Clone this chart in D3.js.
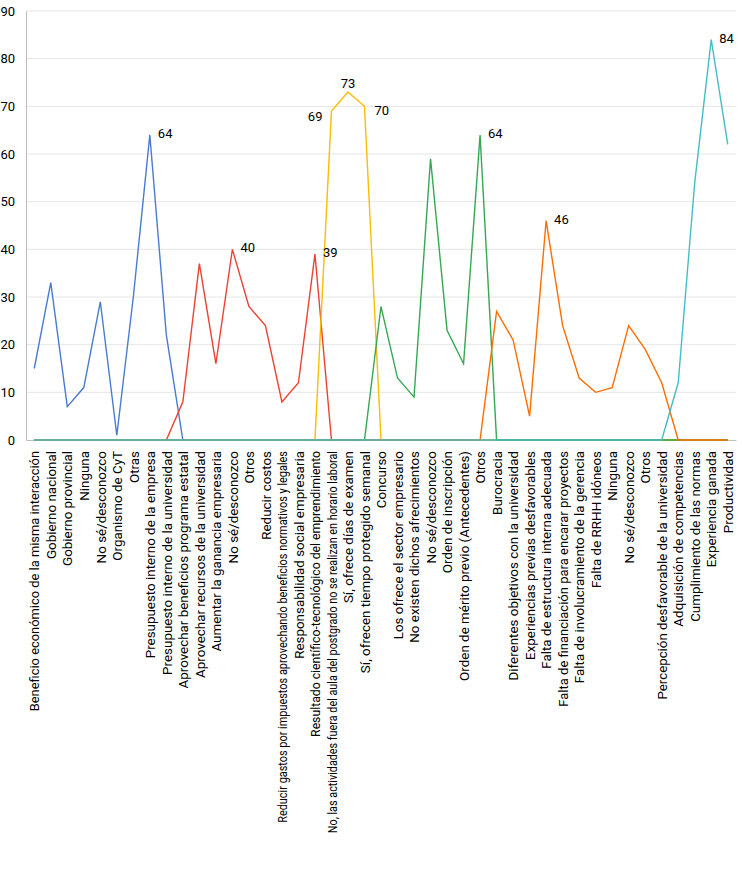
<!DOCTYPE html>
<html>
<head>
<meta charset="utf-8">
<script src="https://cdn.jsdelivr.net/npm/d3@7"></script>
<style>
  html, body { margin: 0; padding: 0; background: #fff; }
  svg text { font-family: "Roboto", "Liberation Sans Narrow", sans-serif; fill: #000; }
</style>
</head>
<body>
<svg id="chart" width="742" height="882"></svg>
<script>
const categories = [
  "Beneficio económico de la misma interacción",
  "Gobierno nacional",
  "Gobierno provincial",
  "Ninguna",
  "No sé/desconozco",
  "Organismo de CyT",
  "Otras",
  "Presupuesto interno de la empresa",
  "Presupuesto interno de la universidad",
  "Aprovechar beneficios programa estatal",
  "Aprovechar recursos de la universidad",
  "Aumentar la ganancia empresaria",
  "No sé/desconozco",
  "Otros",
  "Reducir costos",
  "Reducir gastos por impuestos aprovechando beneficios normativos y legales",
  "Responsabilidad social empresaria",
  "Resultado científico-tecnológico del emprendimiento",
  "No, las actividades fuera del aula del postgrado no se realizan en horario laboral",
  "Sí, ofrece días de examen",
  "Sí, ofrecen tiempo protegido semanal",
  "Concurso",
  "Los ofrece el sector empresario",
  "No existen dichos afrecimientos",
  "No sé/desconozco",
  "Orden de inscripción",
  "Orden de mérito previo (Antecedentes)",
  "Otros",
  "Burocracia",
  "Diferentes objetivos con la universidad",
  "Experiencias previas desfavorables",
  "Falta de estructura interna adecuada",
  "Falta de financiación para encarar proyectos",
  "Falta de involucramiento de la gerencia",
  "Falta de RRHH idóneos",
  "Ninguna",
  "No sé/desconozco",
  "Otros",
  "Percepción desfavorable de la universidad",
  "Adquisición de competencias",
  "Cumplimiento de las normas",
  "Experiencia ganada",
  "Productividad"
];

// Six series (one per question block); 0 outside the block
const seriesA = [15,33,7,11,29,1,30,64,22, 0,0,0,0,0,0,0,0,0,0,0,0,0,0,0,0,0,0,0,0,0,0,0,0,0,0,0,0,0,0,0,0,0,0];
const seriesB = [0,0,0,0,0,0,0,0,0, 8,37,16,40,28,24,8,12,39, 0,0,0,0,0,0,0,0,0,0,0,0,0,0,0,0,0,0,0,0,0,0,0,0,0];
const seriesC = [0,0,0,0,0,0,0,0,0,0,0,0,0,0,0,0,0,0, 69,73,70, 0,0,0,0,0,0,0,0,0,0,0,0,0,0,0,0,0,0,0,0,0,0];
const seriesD = [0,0,0,0,0,0,0,0,0,0,0,0,0,0,0,0,0,0,0,0,0, 28,13,9,59,23,16,64, 0,0,0,0,0,0,0,0,0,0,0,0,0,0,0];
const seriesE = [0,0,0,0,0,0,0,0,0,0,0,0,0,0,0,0,0,0,0,0,0,0,0,0,0,0,0,0, 27,21,5,46,24,13,10,11,24,19,12, 0,0,0,0];
const seriesF = [0,0,0,0,0,0,0,0,0,0,0,0,0,0,0,0,0,0,0,0,0,0,0,0,0,0,0,0,0,0,0,0,0,0,0,0,0,0,0,12,54,84,62];

const yTicks = [0,10,20,30,40,50,60,70,80,90];

// Data labels: [series index, category index, placement]
const valueLabels = [
  [0, 7, "right"],
  [1, 12, "right"],
  [1, 17, "right"],
  [2, 18, "left"],
  [2, 19, "top"],
  [2, 20, "rightBelow"],
  [3, 27, "right"],
  [4, 31, "right"],
  [5, 41, "right"]
];

(function () {
const allSeries = [seriesA, seriesB, seriesC, seriesD, seriesE, seriesF];
const colors = ["#4a7bd0", "#ea4335", "#fbbc04", "#34a853", "#ff6d01", "#46bdc6"];

const svg = d3.select("#chart");
const mLeft = 26, mRight = 736, mTop = 11, mBottom = 440;

const x = d3.scalePoint().domain(d3.range(categories.length)).range([mLeft, mRight]).padding(0.5);
const y = d3.scaleLinear().domain([0, 90]).range([mBottom, mTop]);

// gridlines
svg.append("g").selectAll("line").data(yTicks.filter(d => d > 0)).join("line")
  .attr("x1", mLeft).attr("x2", mRight)
  .attr("y1", d => y(d)).attr("y2", d => y(d))
  .attr("stroke", "#e6e6e6").attr("stroke-width", 1);

// y axis
const yAxis = svg.append("g").attr("transform", `translate(${mLeft},0)`)
  .call(d3.axisLeft(y).tickValues(yTicks).tickSize(0).tickPadding(11));
yAxis.select(".domain").attr("stroke", "#bdbdbd");
yAxis.selectAll("text").attr("font-size", 13).attr("font-family", "Roboto, sans-serif");

// x axis
const xAxis = svg.append("g").attr("transform", `translate(0,${mBottom})`)
  .call(d3.axisBottom(x).tickSize(0).tickFormat(i => categories[i]));
xAxis.select(".domain").attr("stroke", "#bdbdbd");
xAxis.selectAll("text")
  .attr("font-size", 13.4)
  .attr("font-family", "Roboto, sans-serif")
  .attr("text-anchor", "end")
  .attr("dy", "0.35em")
  .attr("transform", "translate(0,11) rotate(-90)")
  .attr("x", 0).attr("y", 0)
  .each(function () {
    const natural = this.getComputedTextLength();
    const knee = 245;
    if (natural > knee) {
      const fit = knee + (natural - knee) * 0.6;
      d3.select(this).attr("textLength", fit).attr("lengthAdjust", "spacingAndGlyphs");
    }
  });

// lines
const line = d3.line().x((d, i) => x(i)).y(d => y(d));
svg.append("g").selectAll("path").data(allSeries).join("path")
  .attr("d", line)
  .attr("fill", "none")
  .attr("stroke", (d, i) => colors[i])
  .attr("stroke-width", 1.4)
  .attr("stroke-linejoin", "miter");

// value labels
svg.append("g").selectAll("text").data(valueLabels).join("text")
  .attr("font-size", 13)
  .attr("font-family", "Roboto, sans-serif")
  .attr("x", d => {
    const px = x(d[1]);
    if (d[2] === "left") return px - 9;
    if (d[2] === "top") return px;
    if (d[2] === "rightBelow") return px + 10;
    return px + 8;
  })
  .attr("y", d => {
    const py = y(allSeries[d[0]][d[1]]);
    if (d[2] === "left") return py + 10;
    if (d[2] === "top") return py - 4;
    if (d[2] === "rightBelow") return py + 9;
    return py + 3;
  })
  .attr("text-anchor", d => d[2] === "left" ? "end" : d[2] === "top" ? "middle" : "start")
  .text(d => allSeries[d[0]][d[1]]);
})();
</script>
</body>
</html>
